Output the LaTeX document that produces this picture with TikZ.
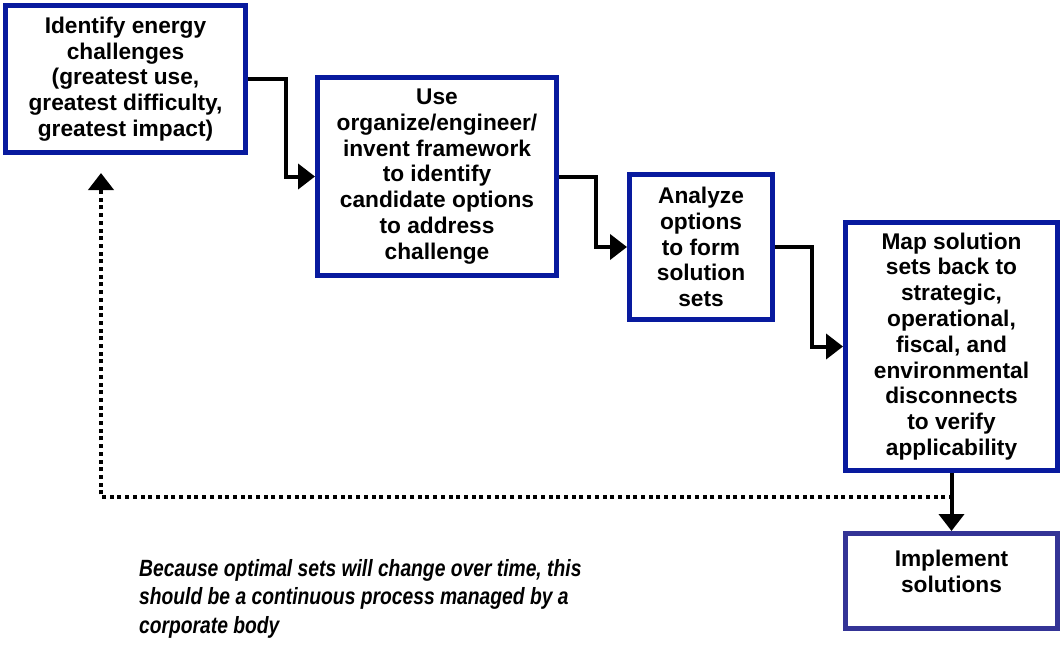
\documentclass[tikz,border=0pt]{standalone}
\usepackage{fontspec}
\setmainfont{Liberation Sans}
\newfontfamily\notefont[FakeStretch=0.82]{Liberation Sans}
\usetikzlibrary{arrows.meta,positioning}
\definecolor{boxblue}{RGB}{8,26,158}
\definecolor{lastblue}{RGB}{52,52,150}
\tikzstyle{block} = [rectangle, draw=boxblue, line width=5pt, fill=white, align=center, inner sep=0pt, font=\fontsize{22.7}{25.8}\selectfont\bfseries]
\tikzstyle{line} = [draw, line width=4pt, -{Triangle[length=17pt,width=25pt]}]
\tikzstyle{feedback} = [line, dash pattern=on 4pt off 3.7pt]
\tikzstyle{note} = [align=left, inner sep=0pt, font=\notefont\bfseries\itshape\fontsize{23.5}{28.7}\selectfont]

\begin{document}
\begin{tikzpicture}[x=1pt, y=-1pt]
  \useasboundingbox (0,0) rectangle (1064,646);

  \node [block, minimum width=240pt, minimum height=147pt] (challenges) at (125.5,79) {Identify energy\\challenges\\(greatest use,\\greatest difficulty,\\greatest impact)};
  \node [block, minimum width=239pt, minimum height=198pt] (framework) at (437,176.5) {Use\\organize/engineer/\\invent framework\\to identify\\candidate options\\to address\\challenge};
  \node [block, minimum width=143pt, minimum height=145pt] (analyze) at (701,247) {Analyze\\options\\to form\\solution\\sets};
  \node [block, minimum width=212pt, minimum height=248pt] (map_back) at (951.5,346.5) {Map solution\\sets back to\\strategic,\\operational,\\fiscal, and\\environmental\\disconnects\\to verify\\applicability};
  \node [block, draw=lastblue, minimum width=212pt, minimum height=95pt] (implement) at (951.5,581) {Implement\\solutions\\[-6pt]\mbox{}};

  \node [note, anchor=north west] (note) at (139,559) {Because optimal sets will change over time, this\\should be a continuous process managed by a\\corporate body};

  \coordinate (loop_start) at (953,497);
  \coordinate (loop_end) at (101,173);

  \path [line] (challenges.east) -- ++(37.5,0) |- (framework.west);
  \path [line] (framework.east) -- ++(36.5,0) |- (analyze.west);
  \path [line] (analyze.east) -- ++(36.5,0) |- (map_back.west);
  \path [line] (map_back.south) -- (implement.north);

  \path [feedback] (loop_start) -| (loop_end);
\end{tikzpicture}
\end{document}
